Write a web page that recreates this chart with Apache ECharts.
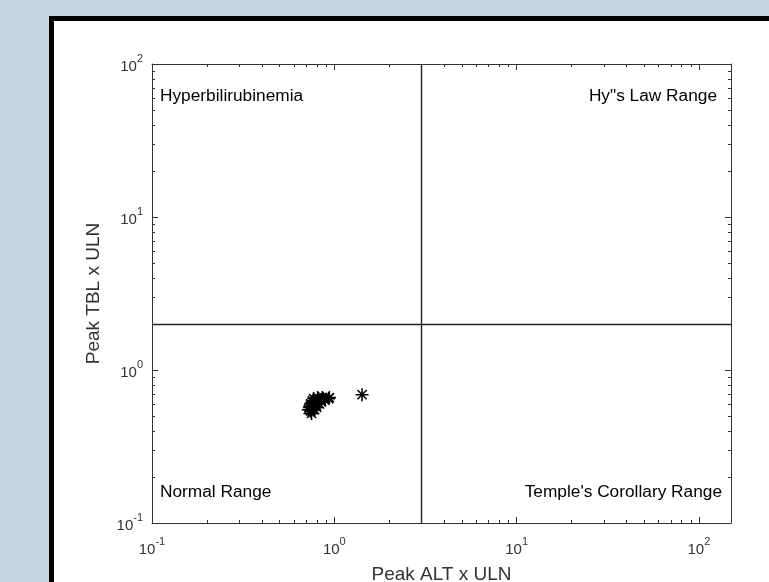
<!DOCTYPE html>
<html>
<head>
<meta charset="utf-8">
<script src="https://cdn.jsdelivr.net/npm/echarts@6/dist/echarts.min.js"></script>
<style>
  html, body { margin: 0; padding: 0; width: 769px; height: 582px; overflow: hidden; background: #c4d7e7; }
  .panel { position: absolute; left: 49px; top: 16px; width: 900px; height: 900px; box-sizing: border-box;
           border: 5px solid #000; background: #fff; }
  #chart { position: absolute; left: 0; top: 0; width: 769px; height: 582px; }
</style>
</head>
<body>
<div class="panel"></div>
<div id="chart"></div>
<script>
// peak values per subject (x ULN)
const altPeak = [0.74, 0.75, 0.74, 0.76, 0.77, 0.78, 0.79, 0.80, 0.81, 0.82, 0.83,
                 0.84, 0.85, 0.87, 0.89, 0.93, 0.94, 0.75, 0.73, 0.77, 0.81, 0.86,
                 0.76, 0.79, 0.78, 0.80, 0.74, 0.77, 0.72, 1.42];
const tblPeak = [0.54, 0.57, 0.60, 0.63, 0.55, 0.59, 0.63, 0.57, 0.61, 0.65, 0.60,
                 0.64, 0.62, 0.65, 0.64, 0.65, 0.66, 0.52, 0.57, 0.65, 0.66, 0.66,
                 0.58, 0.60, 0.55, 0.62, 0.58, 0.61, 0.55, 0.69];

const altLimit = 3;   // 3 x ULN
const tblLimit = 2;   // 2 x ULN

const xRange = [0.1, 150];
const yRange = [0.1, 100];
const xMinorTicks = [0.2, 0.3, 0.4, 0.5, 0.6, 0.7, 0.8, 0.9, 2, 3, 4, 5, 6, 7, 8, 9,
                     20, 30, 40, 50, 60, 70, 80, 90];
const yMinorTicks = [0.2, 0.3, 0.4, 0.5, 0.6, 0.7, 0.8, 0.9, 2, 3, 4, 5, 6, 7, 8, 9,
                     20, 30, 40, 50, 60, 70, 80, 90];

const quadrantLabels = ['Hyperbilirubinemia', 'Hy"s Law Range', 'Normal Range', "Temple's Corollary Range"];

const FONT = "'Liberation Sans', Arial, sans-serif";
const AXIS_COLOR = '#333';

// MATLAB style '*' marker (fat arms so overlapping points merge like the original)
const STAR = 'path://M8.8,0H11.2V20H8.8Z M0,8.8H20V11.2H0Z M3.78,2.08L17.92,16.22L16.22,17.92L2.08,3.78Z M17.92,3.78L3.78,17.92L2.08,16.22L16.22,2.08Z';

const powLabel = v => {
  const e = Math.round(Math.log10(v));
  if (Math.abs(Math.log10(v) - e) > 1e-6) return '';
  return '{b|10}{s|' + e + '}';
};
const labelRich = {
  b: { fontSize: 15, padding: [6, 0, 0, 0], verticalAlign: 'bottom', color: AXIS_COLOR, fontFamily: FONT },
  s: { fontSize: 11, verticalAlign: 'top', color: AXIS_COLOR, fontFamily: FONT }
};

const axisBase = {
  type: 'log',
  logBase: 10,
  axisLine: { show: true, onZero: false, lineStyle: { color: AXIS_COLOR, width: 1 } },
  axisTick: { show: true, inside: true, length: 6, lineStyle: { color: AXIS_COLOR } },
  splitLine: { show: false },
  minorTick: { show: false },
  minorSplitLine: { show: false }
};

const xTick = (params, api) => {
  const cs = params.coordSys;
  const px = Math.round(api.coord([api.value(0), 1])[0]) + 0.5;
  const b = cs.y + cs.height, t = cs.y;
  const st = { stroke: AXIS_COLOR, lineWidth: 1 };
  return { type: 'group', children: [
    { type: 'line', shape: { x1: px, y1: b, x2: px, y2: b - 3 }, style: st },
    { type: 'line', shape: { x1: px, y1: t, x2: px, y2: t + 3 }, style: st }
  ] };
};
const yTick = (params, api) => {
  const cs = params.coordSys;
  const py = Math.round(api.coord([1, api.value(1)])[1]) + 0.5;
  const l = cs.x, r = cs.x + cs.width;
  const st = { stroke: AXIS_COLOR, lineWidth: 1 };
  return { type: 'group', children: [
    { type: 'line', shape: { x1: l, y1: py, x2: l + 3, y2: py }, style: st },
    { type: 'line', shape: { x1: r, y1: py, x2: r - 3, y2: py }, style: st }
  ] };
};

const chart = echarts.init(document.getElementById('chart'));
chart.setOption({
  backgroundColor: 'transparent',
  animation: false,
  grid: { left: 152, right: 38, top: 64, bottom: 59, containLabel: false, outerBoundsMode: 'none' },
  xAxis: [
    Object.assign({}, axisBase, {
      position: 'bottom', min: xRange[0], max: xRange[1],
      name: 'Peak ALT x ULN', nameLocation: 'middle', nameGap: 42,
      nameTextStyle: { fontSize: 19, color: AXIS_COLOR, fontFamily: FONT },
      axisLabel: { show: true, margin: 13, formatter: powLabel, rich: labelRich }
    }),
    Object.assign({}, axisBase, {
      position: 'top', min: xRange[0], max: xRange[1], axisLabel: { show: false }
    })
  ],
  yAxis: [
    Object.assign({}, axisBase, {
      position: 'left', min: yRange[0], max: yRange[1],
      name: 'Peak TBL x ULN', nameLocation: 'middle', nameGap: 49,
      nameTextStyle: { fontSize: 19, color: AXIS_COLOR, fontFamily: FONT },
      axisLabel: { show: true, margin: 9, formatter: powLabel, rich: labelRich }
    }),
    Object.assign({}, axisBase, {
      position: 'right', min: yRange[0], max: yRange[1], axisLabel: { show: false }
    })
  ],
  series: [
    {
      type: 'scatter',
      data: altPeak.map((a, i) => [a, tblPeak[i]]),
      symbol: STAR,
      symbolSize: 13,
      itemStyle: { color: '#000', opacity: 1 },
      z: 5,
      markLine: {
        silent: true,
        symbol: 'none',
        label: { show: false },
        lineStyle: { color: '#222', width: 1.4, type: 'solid' },
        data: [{ xAxis: altLimit }, { yAxis: tblLimit }]
      }
    },
    {
      type: 'custom', silent: true, renderItem: xTick,
      data: xMinorTicks.map(v => [v, 1]), encode: { x: 0, y: 1 }
    },
    {
      type: 'custom', silent: true, renderItem: yTick,
      data: yMinorTicks.map(v => [1, v]), encode: { x: 0, y: 1 }
    }
  ],
  graphic: [
    { type: 'text', left: 160, top: 88, style: { text: quadrantLabels[0], fontSize: 17.3, fontFamily: FONT, fill: '#000' } },
    { type: 'text', right: 52, top: 88, style: { text: quadrantLabels[1], fontSize: 17.3, fontFamily: FONT, fill: '#000' } },
    { type: 'text', left: 160, top: 484, style: { text: quadrantLabels[2], fontSize: 17.3, fontFamily: FONT, fill: '#000' } },
    { type: 'text', right: 47, top: 484, style: { text: quadrantLabels[3], fontSize: 17.3, fontFamily: FONT, fill: '#000' } }
  ]
});
</script>
</body>
</html>
